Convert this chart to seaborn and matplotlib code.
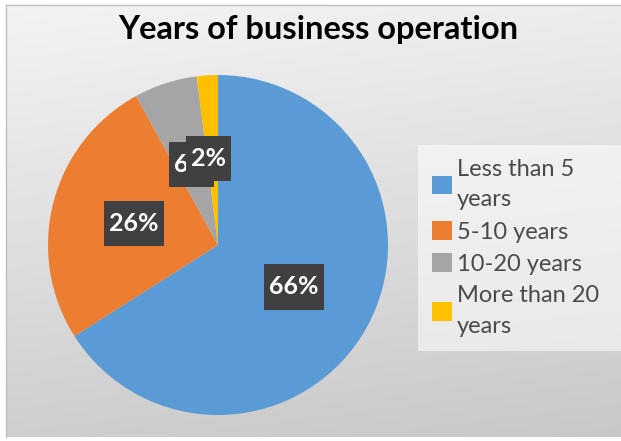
import numpy as np
import matplotlib
matplotlib.use("Agg")
import matplotlib.pyplot as plt
from matplotlib.path import Path
from matplotlib.transforms import offset_copy
import seaborn as sns

# Years-of-operation breakdown
categories = ["Less than 5\nyears", "5-10 years", "10-20 years", "More than 20\nyears"]
shares = [66, 26, 6, 2]
colors = ["#5B9BD5", "#ED7D31", "#A5A5A5", "#FFC000"]
title = "Years of business operation"

sns.set_theme(style="white")
plt.rcParams["font.family"] = ["Lato", "DejaVu Sans"]

W, H = 621, 441
fig = plt.figure(figsize=(W / 100, H / 100), dpi=100)
fig.patch.set_facecolor("white")

# Chart-area background: soft light-to-grey gradient with a thin frame
bg = fig.add_axes([6 / W, 4 / H, (W - 6) / W, (H - 9) / H])
yy, xx = np.mgrid[0:1:200j, 0:1:300j]
t = np.clip(0.85 * yy + 0.15 * xx, 0, 1)
top = np.array([0.955, 0.955, 0.955])
bot = np.array([0.785, 0.785, 0.785])
img = top[None, None, :] * (1 - t[..., None]) + bot[None, None, :] * t[..., None]
bg.imshow(img, aspect="auto", extent=[0, 1, 1, 0], interpolation="bilinear")
bg.set_xlim(0, 1)
bg.set_ylim(1, 0)
bg.set_xticks([])
bg.set_yticks([])
for side, sp in bg.spines.items():
    sp.set_visible(side in ("top", "left"))
    sp.set_color("#bfbfbf")
    sp.set_linewidth(1.0)


def label_box(x0, y0, width, height, mutation_size):
    """Rectangle with tighter horizontal than vertical padding."""
    px, py = 0.2 * mutation_size, 0.45 * mutation_size
    x0, y0 = x0 - px, y0 - py
    x1, y1 = x0 + width + 2 * px, y0 + height + 2 * py
    return Path([(x0, y0), (x1, y0), (x1, y1), (x0, y1), (x0, y0)], closed=True)


# Pie
cx, cy, r = 218, 245, 170
ax = fig.add_axes([(cx - r) / W, (H - cy - r) / H, 2 * r / W, 2 * r / H])
ax.set_facecolor("none")
wedges, texts, autotexts = ax.pie(
    shares,
    colors=colors,
    startangle=90,
    counterclock=False,
    radius=1.0,
    autopct=lambda p: f"{p:.0f}%",
    pctdistance=0.51,
    wedgeprops=dict(linewidth=0),
    textprops=dict(color="white", fontsize=18, fontweight="bold"),
)
for at in autotexts:
    at.set_bbox(dict(boxstyle=label_box, facecolor="#404040", edgecolor="none"))
# the two small slices sit side by side; the last label is drawn over the previous one
autotexts[2].set_transform(offset_copy(ax.transData, fig=fig, x=0, y=-2, units="dots"))
autotexts[3].set_transform(offset_copy(ax.transData, fig=fig, x=-4, y=0, units="dots"))
ax.set_xlim(-1, 1)
ax.set_ylim(-1, 1)
ax.set_aspect("equal")
ax.axis("off")

fig.text(318 / W, 1 - 29 / H, title, ha="center", va="center",
         fontsize=23.5, fontweight="bold", color="black")

leg = fig.legend(
    wedges, categories,
    loc="upper left",
    bbox_to_anchor=(425 / W, 1 - 340 / H, 200 / W, 188 / H),
    bbox_transform=fig.transFigure,
    mode="expand",
    fontsize=17,
    frameon=True,
    handlelength=0.85,
    handleheight=0.85,
    handletextpad=0.2,
    labelspacing=0.45,
    borderpad=0.3,
    borderaxespad=0,
)
frame = leg.get_frame()
frame.set_facecolor("white")
frame.set_alpha(0.55)
frame.set_edgecolor("none")
frame.set_boxstyle("square")
for txt in leg.get_texts():
    txt.set_color("#4a4a4a")
    txt.set_linespacing(1.55)

fig.savefig("out.png", dpi=100)
